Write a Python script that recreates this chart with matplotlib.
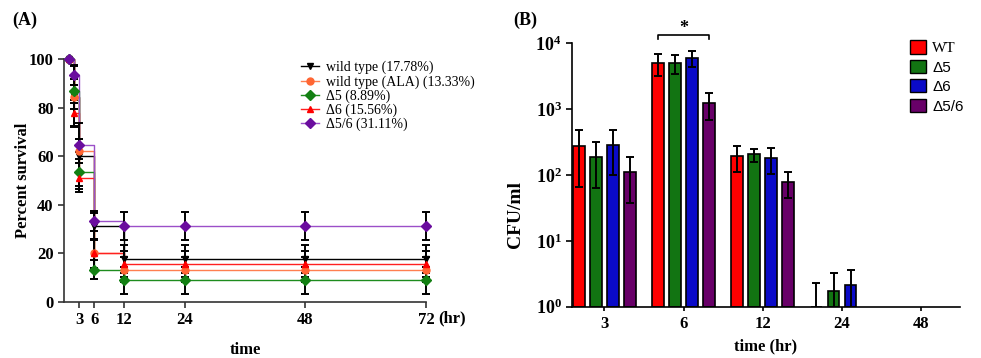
import numpy as np
import matplotlib.pyplot as plt
from matplotlib.patches import Patch
from matplotlib.lines import Line2D

plt.rcParams['font.family'] = 'Liberation Serif'
plt.rcParams['mathtext.fontset'] = 'custom'
plt.rcParams['mathtext.rm'] = 'Liberation Serif'
plt.rcParams['mathtext.bf'] = 'Liberation Serif:bold'

# ---- panel A: survival curves ----
surv_times = [1, 2, 3, 6, 12, 24, 48, 72]
wt = [100, 84.4, 60.0, 31.1, 17.78, 17.78, 17.78, 17.78]
wt_err = [0, 12.5, 13.5, 5.5, 5.8, 5.8, 5.8, 5.8]
wt_ala = [100, 84.4, 62.2, 20.0, 13.33, 13.33, 13.33, 13.33]
wt_ala_err = [0, 5.0, 5.0, 6.0, 5.1, 5.1, 5.1, 5.1]
d5 = [100, 86.7, 53.3, 13.3, 8.89, 8.89, 8.89, 8.89]
d5_err = [0, 5.0, 5.5, 3.8, 5.4, 5.4, 5.4, 5.4]
d6 = [100, 77.8, 51.1, 20.0, 15.56, 15.56, 15.56, 15.56]
d6_err = [0, 5.5, 6.0, 6.0, 5.4, 5.4, 5.4, 5.4]
d56 = [100, 93.3, 64.4, 33.3, 31.11, 31.11, 31.11, 31.11]
d56_err = [0, 4.0, 2.5, 4.0, 5.8, 5.8, 5.8, 5.8]
surv_labels = ['wild type (17.78%)', 'wild type (ALA) (13.33%)', 'Δ5 (8.89%)',
               'Δ6 (15.56%)', 'Δ5/6 (31.11%)']

# ---- panel B: CFU counts ----
cfu_times = ['3', '6', '12', '24', '48']
cfu_wt = [275, 5000, 195, 1.0, 0]
cfu_wt_err = [210, 1800, 82, 1.3, 0]
cfu_d5 = [190, 5000, 205, 1.73, 0]
cfu_d5_err = [127, 1600, 45, 1.56, 0]
cfu_d6 = [290, 6000, 180, 2.13, 0]
cfu_d6_err = [190, 1600, 75, 1.5, 0]
cfu_d56 = [113, 1230, 77, 0, 0]
cfu_d56_err = [75, 550, 33, 0, 0]
cfu_labels = ['WT', 'Δ5', 'Δ6', 'Δ5/6']

fig = plt.figure(figsize=(9.81, 3.58), dpi=100)

# panel A
ax = fig.add_axes([0.0653, 0.1564, 0.369, 0.679])
series = [wt, wt_ala, d5, d6, d56]
errs = [wt_err, wt_ala_err, d5_err, d6_err, d56_err]
line_cols = ['#000000', '#ff7f50', '#1e8c1e', '#ff2020', '#9b4fc8']
mark_cols = ['#000000', '#ff6633', '#138013', '#ff0000', '#6a0d9e']
markers = ['v', 'o', 'D', '^', 'D']
handles = []
for vals, e, lc, mc, m, lab in zip(series, errs, line_cols, mark_cols, markers, surv_labels):
    t = [0] + surv_times
    v = [100] + vals
    ax.plot(t, v, drawstyle='steps-post', color=lc, lw=1.0, zorder=2)
    ax.errorbar(surv_times, vals, yerr=e, fmt='none', ecolor='black',
                elinewidth=1.4, capsize=3, capthick=1.4, zorder=3, clip_on=False)
    ax.plot(surv_times, vals, ls='none', marker=m, ms=5, color=mc, zorder=4, clip_on=False)
    handles.append(Line2D([], [], color=lc, lw=1.0, marker=m, ms=5, mfc=mc, mec=mc))

ax.set_xlim(0, 72)
ax.set_ylim(0, 100)
ax.set_xticks([3, 6, 12, 24, 48, 72])
ax.set_yticks([0, 20, 40, 60, 80, 100])
for s in ['top', 'right']:
    ax.spines[s].set_visible(False)
for s in ['left', 'bottom']:
    ax.spines[s].set_linewidth(1.2)
    ax.spines[s].set_color('#333333')
ax.tick_params(direction='out', length=4, width=1.2, labelsize=12, color='#333333')
for lbl in ax.get_xticklabels() + ax.get_yticklabels():
    lbl.set_fontweight('bold')
ax.set_ylabel('Percent survival', fontsize=12, fontweight='bold')
ax.yaxis.set_label_coords(-0.092, 0.5)
ax.set_xlabel('time', fontsize=12, fontweight='bold')
ax.xaxis.set_label_coords(0.5, -0.165)
fig.text(452 / 981, 1 - 318 / 358, '(hr)', fontsize=12, fontweight='bold',
         ha='center', va='center')
fig.text(12 / 981, 1 - 20 / 358, '(A)', fontsize=13, fontweight='bold', va='center')
ax.legend(handles, surv_labels, loc='upper left', bbox_to_anchor=(0.635, 1.02),
          frameon=False, fontsize=10, handlelength=1.3, handletextpad=0.5,
          labelspacing=0.05, borderpad=0)

# panel B
bx = fig.add_axes([0.5831, 0.1433, 0.3955, 0.7357])
x = np.arange(len(cfu_times))
width = 0.15
offs = (np.arange(4) - 1.5) * 0.215
bar_vals = [cfu_wt, cfu_d5, cfu_d6, cfu_d56]
bar_errs = [cfu_wt_err, cfu_d5_err, cfu_d6_err, cfu_d56_err]
bar_cols = ['#ff0000', '#127412', '#0a0ac8', '#680068']
for vals, e, col, off in zip(bar_vals, bar_errs, bar_cols, offs):
    vals = np.array(vals, float)
    e = np.array(e, float)
    ok = vals > 0
    bx.bar(x[ok] + off, vals[ok] - 1, bottom=1, width=width, color=col,
           edgecolor='black', linewidth=1.2, zorder=2)
    ke = e > 0
    lower = np.minimum(e[ke], vals[ke] - 1e-3)
    bx.errorbar(x[ke] + off, vals[ke], yerr=[lower, e[ke]], fmt='none', ecolor='black',
                elinewidth=1.4, capsize=3, capthick=1.4, zorder=3)

bx.set_yscale('log')
bx.set_ylim(1, 1e4)
bx.set_xlim(-0.41, 4.49)
bx.set_yticks([1, 10, 100, 1000, 10000])
bx.set_yticklabels([r'$\mathbf{10^{%d}}$' % k for k in range(5)])
bx.yaxis.set_minor_locator(plt.NullLocator())
bx.set_xticks(x)
bx.set_xticklabels(cfu_times)
for s in ['top', 'right']:
    bx.spines[s].set_visible(False)
for s in ['left', 'bottom']:
    bx.spines[s].set_linewidth(1.2)
bx.tick_params(direction='out', length=4, width=1.2, labelsize=13)
bx.tick_params(axis='x', length=3, labelsize=12)
for lbl in bx.get_xticklabels():
    lbl.set_fontweight('bold')
bx.set_ylabel('CFU/ml', fontsize=14, fontweight='bold')
bx.yaxis.set_label_coords(-0.125, 0.35)
bx.set_xlabel('time (hr)', fontsize=12, fontweight='bold')
bx.xaxis.set_label_coords(0.5, -0.12)
fig.text(513 / 981, 1 - 20 / 358, '(B)', fontsize=13, fontweight='bold', va='center')

# significance bracket over the 6 h group
xa = x[1] + offs[0]
xb = x[1] + offs[3]
bx.plot([xa, xa, xb, xb], [11600, 13400, 13400, 11600], color='black', lw=1.2, clip_on=False)
bx.text((xa + xb) / 2, 17000, '*', ha='center', va='center', fontsize=13, fontweight='bold')

leg_handles = [Patch(facecolor=c, edgecolor='black', linewidth=1.0) for c in bar_cols]
leg = bx.legend(leg_handles, cfu_labels, loc='upper left', bbox_to_anchor=(0.852, 1.04),
                frameon=False, fontsize=11, handlelength=1.0, handleheight=0.95,
                handletextpad=0.45, labelspacing=0.3, borderpad=0)
for tx in leg.get_texts()[1:]:
    tx.set_family('Liberation Sans')

fig.savefig('out.png', dpi=100)
